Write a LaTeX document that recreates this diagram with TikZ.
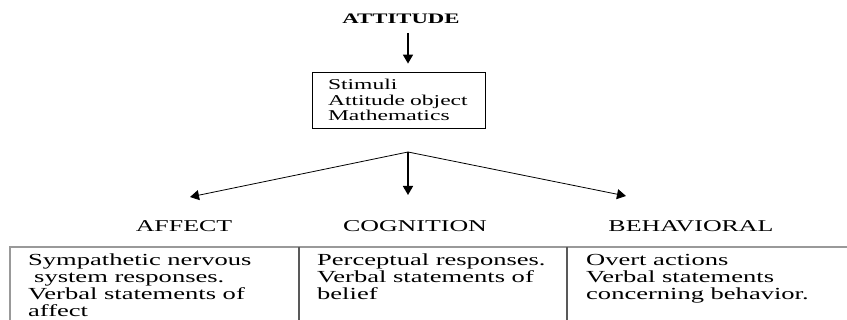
\documentclass[tikz,border=0pt]{standalone}
\usepackage{fontspec}
\setmainfont{Liberation Serif}[FakeStretch=1.57]
\usetikzlibrary{arrows.meta}
\begin{document}
\begin{tikzpicture}[x=1pt,y=-1pt,
  lbl/.style={inner sep=0pt, font=\fontsize{16.5}{17}\selectfont, anchor=base},
  body/.style={inner sep=0pt, font=\fontsize{16.9}{17}\selectfont, anchor=base west, align=left},
  arr/.style={-{Triangle[length=9pt,width=10pt]}, line width=0.8pt},
  thickarr/.style={arr, line width=1.6pt},
  gridline/.style={draw=black!40, line width=1.5pt},
  divider/.style={draw=black!65, line width=1.6pt}]
\useasboundingbox (0,0) rectangle (847,320);
\clip (0,0) rectangle (847,320);

% title
\node[inner sep=0pt, anchor=base, font=\bfseries\fontsize{14.5}{17}\selectfont] (attitude) at (401,24) {ATTITUDE};

% stimulus box
\node[draw, line width=0.8pt, minimum height=56pt, text width=141pt, inner xsep=16pt, inner ysep=0pt,
      align=left, font=\fontsize{15}{15.5}\selectfont] (obj) at (398.5,100)
  {Stimuli\\Attitude object\\Mathematics};

\coordinate (top) at (408,33);
\draw[thickarr, shorten >=8pt] (top) -- (top |- obj.north);

% fork
\coordinate (fork) at (408,152);
\coordinate (ta) at (190,197);
\coordinate (tc) at (408,195);
\coordinate (tb) at (626,196);
\draw[arr] (fork) -- (ta);
\draw[thickarr] (fork) -- (tc);
\draw[arr] (fork) -- (tb);

% labels
\node[lbl] (affect) at (184,232) {AFFECT};
\node[lbl] (cognition) at (415,232) {COGNITION};
\node[lbl] (behavioral) at (691,232) {BEHAVIORAL};

% table lines
\draw[gridline] (10,340) -- (10,247) -- (860,247);
\draw[divider] (299,247) -- (299,340);
\draw[divider] (567,247) -- (567,340);

% texts (anchor = baseline of last line)
\node[body] (afftext) at (28,317) {Sympathetic nervous\\\hspace{6pt}system responses.\\Verbal statements of\\affect};
\node[body] (cogtext) at (317,300) {Perceptual responses.\\Verbal statements of\\belief};
\node[body] (behtext) at (586,300) {Overt actions\\Verbal statements\\concerning behavior.};
\end{tikzpicture}
\end{document}
